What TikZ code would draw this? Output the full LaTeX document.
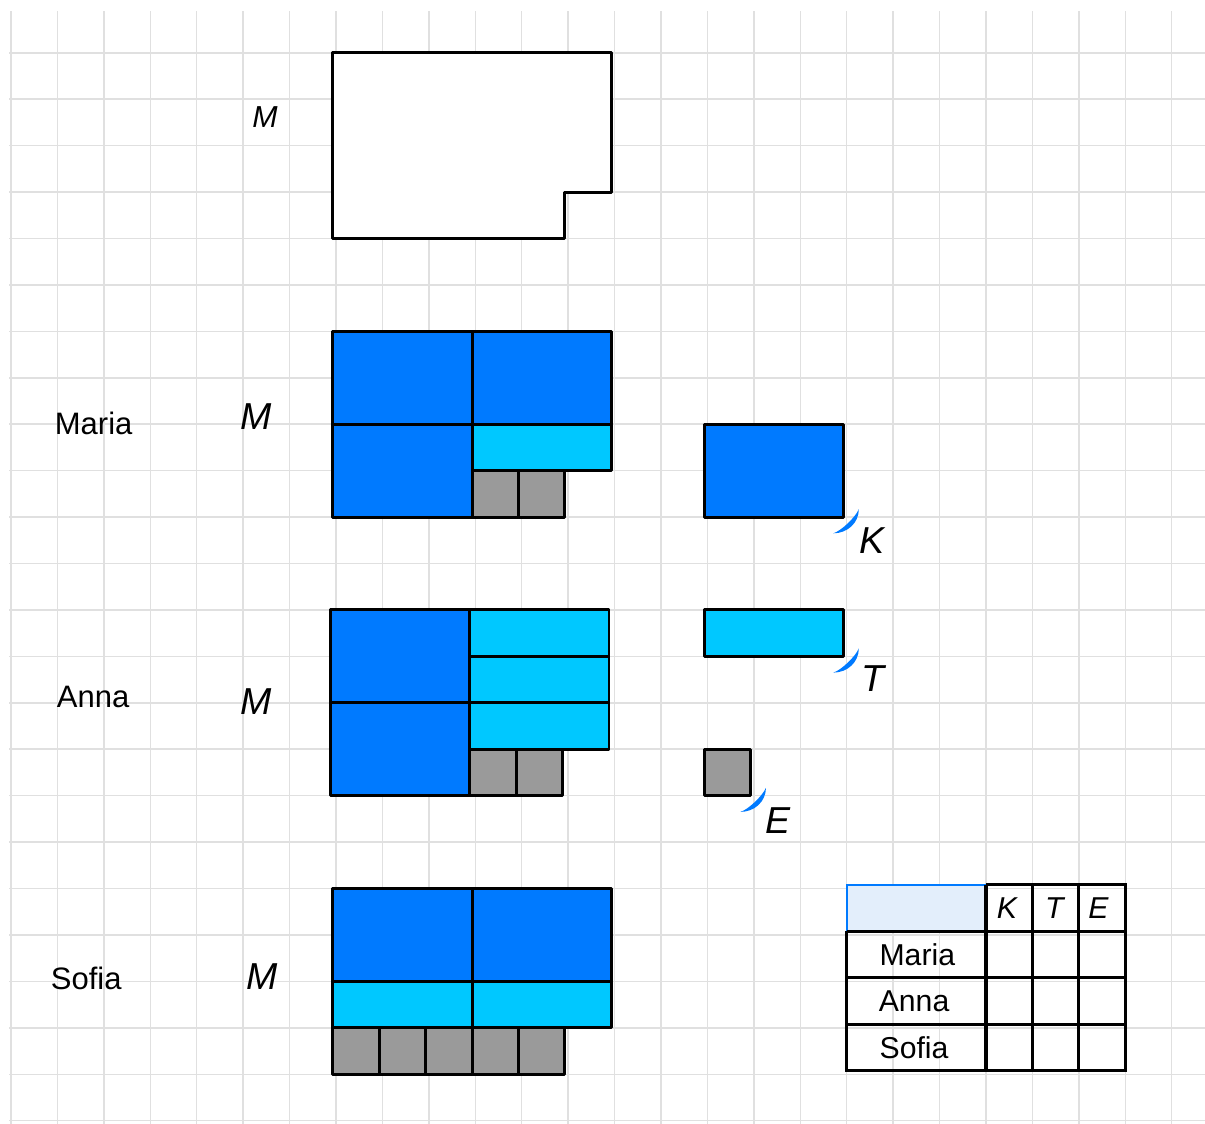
\documentclass[tikz,border=0pt]{standalone}
\usepackage{fontspec}
\setmainfont{Liberation Sans}
\usetikzlibrary{positioning}
\definecolor{tileblue}{HTML}{007AFF}
\definecolor{tilecyan}{HTML}{00C8FF}
\definecolor{tilegrey}{HTML}{9A9A9A}
\definecolor{gridgrey}{HTML}{E0E0E0}
\definecolor{headfill}{HTML}{E3EEFB}
\tikzset{
  gridline/.style={draw=gridgrey, line width=0.9pt},
  tile/.style={draw=black, line width=1.8pt, line join=round},
  big/.style={tile, fill=tileblue},
  bar/.style={tile, fill=tilecyan},
  unit/.style={tile, fill=tilegrey},
  who/.style={font=\fontsize{19}{22}\selectfont},
  var/.style={font=\fontsize{23}{26}\selectfont\itshape},
  tab/.style={font=\fontsize{18.5}{21}\selectfont},
  tabvar/.style={tab, font=\fontsize{18.5}{21}\selectfont\itshape},
  tabline/.style={draw=black, line width=1.9pt},
}
\newcommand{\moon}[1]{\fill[tileblue, shift={#1}] (-0.22,-0.35) .. controls (0.08,-0.35) and (0.33,-0.13) .. (0.33,0.17)
  .. controls (0.26,0) and (-0.05,-0.3) .. (-0.22,-0.35) -- cycle;}

\begin{document}
\begin{tikzpicture}
  \useasboundingbox (-0.237,-0.071) rectangle (25.716,24.137);
  % squared paper
  \foreach \i in {0,...,25} \draw[gridline] (\i,-0.08) -- (\i,23.9);
  \foreach \j in {0,...,23} \draw[gridline] (-0.04,\j) -- (25.72,\j);

  \begin{scope}[xshift=-0.07cm]
    % the whole M
    \draw[tile, fill=white] (7,23) -- (13,23) -- (13,20) -- (12,20) -- (12,19) -- (7,19) -- cycle;
    % Maria
    \draw[big] (7,15) rectangle (10,17);
    \draw[big] (10,15) rectangle (13,17);
    \draw[big] (7,13) rectangle (10,15);
    \draw[bar] (10,14) rectangle (13,15);
    \foreach \x in {10,11} \draw[unit] (\x,13) rectangle ++(1,1);
    % Sofia
    \foreach \x in {7,10} {
      \draw[big] (\x,3) rectangle ++(3,2);
      \draw[bar] (\x,2) rectangle ++(3,1);
    }
    \foreach \x in {7,...,11} \draw[unit] (\x,1) rectangle ++(1,1);
    % pieces
    \draw[big] (15,13) rectangle (18,15);
    \draw[bar] (15,10) rectangle (18,11);
    \draw[unit] (15,7) rectangle (16,8);
  \end{scope}

  % Anna
  \begin{scope}[xshift=-0.12cm]
    \draw[big] (7,9) rectangle (10,11);
    \draw[big] (7,7) rectangle (10,9);
    \foreach \y in {8,9,10} \draw[bar] (10,\y) rectangle ++(3,1);
    \foreach \x in {10,11} \draw[unit] (\x,7) rectangle ++(1,1);
  \end{scope}

  \moon{(17.93,13)}
  \moon{(17.93,10)}
  \moon{(15.93,7)}
  \node[var] (k) at (18.54,12.5) {K};
  \node[var] (t) at (18.57,9.52) {T};
  \node[var] (e) at (16.53,6.46) {E};

  % names and M
  \node[var, font=\fontsize{18.6}{21}\selectfont\itshape] (m0) at (5.47,21.62) {M};
  \node[who] (maria) at (1.78,15.02) {Maria};
  \node[var] (m1) at (5.29,15.16) {M};
  \node[who] (anna) at (1.77,9.13) {Anna};
  \node[var] (m2) at (5.27,9.03) {M};
  \node[who] (sofia) at (1.62,3.07) {Sofia};
  \node[var] (m3) at (5.41,3.1) {M};

  % table
  \begin{scope}[yshift=0.08cm]
    \fill[headfill] (18,4) rectangle (21,5);
    \draw[tileblue, line width=1pt] (18,4) -- (18,5) -- (21,5);
    \draw[tabline] (21,5) -- (24,5) -- (24,1) -- (18,1) -- (18,4);
    \foreach \y in {2,3,4} \draw[tabline] (18,\y) -- (24,\y);
    \foreach \x in {21,22,23} \draw[tabline] (\x,1) -- (\x,5);
    \node[tabvar] (hk) at (21.45,4.5) {K};
    \node[tabvar] (ht) at (22.47,4.5) {T};
    \node[tabvar] (he) at (23.42,4.5) {E};
    \node[tab] (rm) at (19.52,3.5) {Maria};
    \node[tab] (ra) at (19.45,2.5) {Anna};
    \node[tab] (rs) at (19.45,1.5) {Sofia};
  \end{scope}
\end{tikzpicture}
\end{document}
